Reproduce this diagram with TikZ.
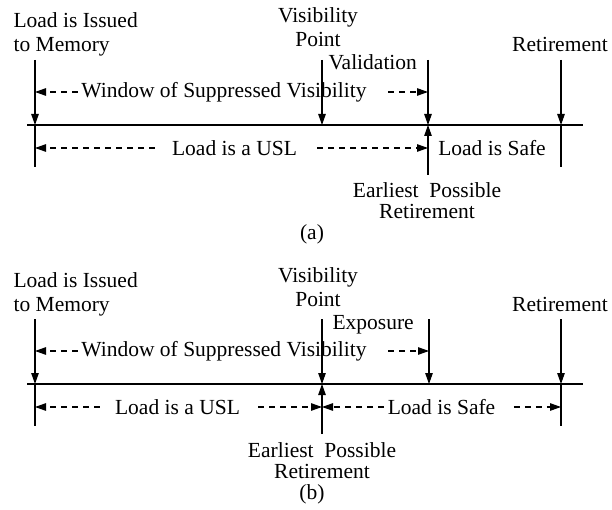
\documentclass[tikz,border=0pt]{standalone}
\usepackage{fontspec}
\setmainfont{Liberation Serif}
\usetikzlibrary{arrows.meta}

\begin{document}
\begin{tikzpicture}[x=1pt,y=-1pt,
    font=\fontsize{21.5}{24}\selectfont,
    line width=1.1pt,
    >={Triangle[length=11pt,width=7.5pt]},
    lbl/.style={inner sep=0pt},
    dsh/.style={dash pattern=on 6pt off 5pt}]
\useasboundingbox (0,0) rectangle (612,510);

% (a) -- validation
\coordinate (a-iss) at (35,60);
\coordinate (a-vis) at (322,60);
\coordinate (a-val) at (428,60);
\coordinate (a-ret) at (561,60);
\coordinate (a-l) at (27,125);
\coordinate (a-r) at (583,125);
\draw (a-l) -- (a-r);
\draw[->] (a-iss) -- (a-iss |- a-l);
\draw (a-iss |- a-l) -- ++(0,42);
\draw[->] (a-vis) -- (a-vis |- a-l);
\draw[->] (a-val) -- (a-val |- a-l);
\draw[->] ([yshift=-50pt]a-val |- a-l) -- (a-val |- a-l);
\draw[->] (a-ret) -- (a-ret |- a-l);
\draw (a-ret |- a-l) -- ++(0,42);

\node[lbl,anchor=base west,align=left] (a-isstxt) at (13,52) {Load is Issued\\to Memory};
\node[lbl,anchor=base,align=center] (a-vistxt) at (318,47) {Visibility\\Point};
\node[lbl,anchor=base west] (a-valtxt) at (328,70) {Validation};
\node[lbl,anchor=base] (a-rettxt) at (560,52) {Retirement};
\node[lbl,anchor=base,align=center] (a-ear) at (427,219) {Earliest\ \ Possible\\[-3pt]Retirement};
\node[lbl,anchor=base] (a-cap) at (312,240) {(a)};

\node[lbl] (a-win) at (224,92) {Window of Suppressed Visibility};
\draw[dsh,->] ([xshift=-3pt]a-win.west) -- (a-win.west -| a-iss);
\draw[dsh,->] ([xshift=21pt]a-win.east) -- (a-win.east -| a-val);
\node[lbl] (a-usl) at (234.5,148) {Load is a USL};
\draw[dsh,->] ([xshift=-17pt]a-usl.west) -- (a-usl.west -| a-iss);
\draw[dsh,->] ([xshift=20pt]a-usl.east) -- (a-usl.east -| a-val);
\node[lbl] (a-safe) at (492,148) {Load is Safe};

% (b) -- exposure
\begin{scope}[yshift=-259pt]
\coordinate (b-iss) at (35,60);
\coordinate (b-vis) at (322,60);
\coordinate (b-exp) at (429,60);
\coordinate (b-ret) at (561,60);
\coordinate (b-l) at (27,125);
\coordinate (b-r) at (583,125);
\draw (b-l) -- (b-r);
\draw[->] (b-iss) -- (b-iss |- b-l);
\draw (b-iss |- b-l) -- ++(0,42);
\draw[->] (b-vis) -- (b-vis |- b-l);
\draw[->] ([yshift=-50pt]b-vis |- b-l) -- (b-vis |- b-l);
\draw[->] (b-exp) -- (b-exp |- b-l);
\draw[->] (b-ret) -- (b-ret |- b-l);
\draw (b-ret |- b-l) -- ++(0,42);

\node[lbl,anchor=base west,align=left] (b-isstxt) at (13,52) {Load is Issued\\to Memory};
\node[lbl,anchor=base,align=center] (b-vistxt) at (318,47) {Visibility\\Point};
\node[lbl,anchor=base west] (b-exptxt) at (332,70) {Exposure};
\node[lbl,anchor=base] (b-rettxt) at (560,52) {Retirement};
\node[lbl,anchor=base,align=center] (b-ear) at (322,219) {Earliest\ \ Possible\\[-3pt]Retirement};
\node[lbl,anchor=base] (b-cap) at (312,240) {(b)};

\node[lbl] (b-win) at (224,92) {Window of Suppressed Visibility};
\draw[dsh,->] ([xshift=-3pt]b-win.west) -- (b-win.west -| b-iss);
\draw[dsh,->] ([xshift=21pt]b-win.east) -- (b-win.east -| b-exp);
\node[lbl] (b-usl) at (177.5,148) {Load is a USL};
\draw[dsh,->] ([xshift=-15pt]b-usl.west) -- (b-usl.west -| b-iss);
\draw[dsh,->] ([xshift=18pt]b-usl.east) -- (b-usl.east -| b-vis);
\node[lbl] (b-safe) at (441.5,148) {Load is Safe};
\draw[dsh,->] ([xshift=-3pt]b-safe.west) -- (b-safe.west -| b-vis);
\draw[dsh,->] ([xshift=18pt]b-safe.east) -- (b-safe.east -| b-ret);
\end{scope}
\end{tikzpicture}
\end{document}
